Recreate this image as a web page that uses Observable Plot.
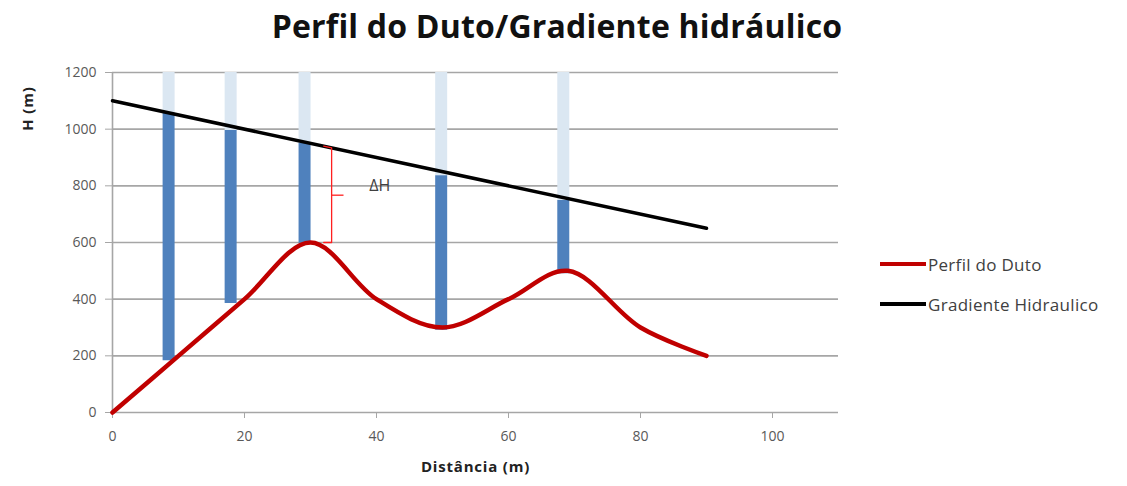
<!DOCTYPE html>
<html>
<head>
<meta charset="utf-8">
<script src="https://cdn.jsdelivr.net/npm/d3@7"></script>
<script src="https://cdn.jsdelivr.net/npm/@observablehq/plot@0.6"></script>
<style>
  body { margin: 0; background: #fff; font-family: "Open Sans", Lato, sans-serif; }
  #wrap { position: relative; width: 1127px; height: 486px; overflow: hidden; }
  #title { position: absolute; top: 4px; left: 0; width: 1114px; text-align: center;
           font-size: 32px; font-weight: bold; color: #111; letter-spacing: 0.2px; }
  #chart { position: absolute; top: 0; left: 0; }
  #legend { position: absolute; left: 880px; top: 252px; font-size: 17px; color: #404040; letter-spacing: 0.3px; }
  .item { display: flex; align-items: center; height: 24px; margin-bottom: 16px; }
  .swatch { width: 46px; height: 0; border-top: 4px solid; margin-right: 2px; }
</style>
</head>
<body>
<div id="wrap">
  <div id="chart"></div>
  <div id="title">Perfil do Duto/Gradiente hidráulico</div>
  <div id="legend"></div>
</div>
<script>
// ---- data ----
const xTicks = [0, 20, 40, 60, 80, 100];
const yTicks = [0, 200, 400, 600, 800, 1000, 1200];

// Perfil do Duto (pipe profile)
const profileX = [0, 10, 20, 30, 40, 50, 60, 69, 80, 90];
const profileY = [0, 200, 400, 600, 400, 300, 400, 500, 300, 200];

// Gradiente Hidraulico
const gradientX = [0, 90];
const gradientY = [1100, 650];

// Vertical columns (piezometric bars)
const barX      = [8.5, 17.9, 29.1, 49.8, 68.3];
const barBottom = [183, 385, 597, 290, 490];
const barTop    = [1055, 995, 950, 836, 748];
const barCeil   = 1200;

// ΔH annotation
const deltaHx = 33.2;
const deltaHlow = 600;
const deltaHhigh = 934;
const deltaHlabel = "ΔH";
const deltaHlabelX = 40.5;
const deltaHlabelY = 800;

const seriesNames = ["Perfil do Duto", "Gradiente Hidraulico"];
const seriesColors = ["#c00000", "#000000"];

// ---- build tables ----
const profile = profileX.map((x, i) => ({x, y: profileY[i]}));
const gradient = gradientX.map((x, i) => ({x, y: gradientY[i]}));
const bars = barX.map((x, i) => ({x, bottom: barBottom[i], top: barTop[i], ceil: barCeil}));
const mid = (deltaHlow + deltaHhigh) / 2;
const bracket = [
  {x: deltaHx - 1.2, y: deltaHhigh + 6},
  {x: deltaHx, y: deltaHhigh},
  {x: deltaHx, y: deltaHlow},
  {x: deltaHx - 1.2, y: deltaHlow}
];

const gray = "#595959";
const chart = Plot.plot({
  width: 1127,
  height: 486,
  marginLeft: 112,
  marginRight: 289,
  marginTop: 72,
  marginBottom: 74,
  style: {fontFamily: "'Open Sans', Lato, sans-serif", background: "transparent"},
  x: {domain: [0, 110]},
  y: {domain: [0, 1200]},
  marks: [
    Plot.gridY(yTicks, {stroke: "#a6a6a6", strokeOpacity: 1, strokeWidth: 1.6}),
    Plot.ruleX([0], {stroke: "#a6a6a6", strokeWidth: 1.6}),
    Plot.axisX(xTicks, {tickSize: 6, tickPadding: 13, fontSize: 14, color: gray, stroke: "#a6a6a6", tickFormat: "d", label: null}),
    Plot.axisY(yTicks, {tickSize: 7, tickPadding: 9, fontSize: 14, color: gray, stroke: "#a6a6a6", tickFormat: "d", label: null}),
    Plot.ruleX(bars, {x: "x", y1: "top", y2: "ceil", stroke: "#dbe7f2", strokeWidth: 12}),
    Plot.ruleX(bars, {x: "x", y1: "bottom", y2: "top", stroke: "#4f81bd", strokeWidth: 12}),
    Plot.line(profile, {x: "x", y: "y", curve: "catmull-rom", stroke: seriesColors[0], strokeWidth: 4.5}),
    Plot.line(gradient, {x: "x", y: "y", stroke: seriesColors[1], strokeWidth: 3.5}),
    Plot.line(bracket, {x: "x", y: "y", stroke: "#ff2020", strokeWidth: 1.3}),
    Plot.link([{x1: deltaHx, x2: deltaHx + 1.8, y: mid}], {x1: "x1", x2: "x2", y1: "y", y2: "y", stroke: "#ff2020", strokeWidth: 1.3}),
    Plot.text([{x: deltaHlabelX, y: deltaHlabelY, t: deltaHlabel}], {x: "x", y: "y", text: "t", fontSize: 16, fill: "#404040"}),
    Plot.text(["Distância (m)"], {frameAnchor: "bottom", dy: 59, fontSize: 15, fontWeight: "bold", fill: "#222", style: "letter-spacing:0.6px"}),
    Plot.text(["H (m)"], {frameAnchor: "top-left", textAnchor: "middle", dx: -90, dy: 36, rotate: -90, fontSize: 15, fontWeight: "bold", fill: "#222"})
  ]
});
document.getElementById("chart").appendChild(chart);
chart.querySelectorAll("text").forEach(t => {
  if (t.textContent === "Distância (m)" || t.textContent === "H (m)") t.style.letterSpacing = "0.8px";
});

const legend = document.getElementById("legend");
seriesNames.forEach((name, i) => {
  const item = document.createElement("div");
  item.className = "item";
  const sw = document.createElement("span");
  sw.className = "swatch";
  sw.style.borderTopColor = seriesColors[i];
  const label = document.createElement("span");
  label.textContent = name;
  item.appendChild(sw);
  item.appendChild(label);
  legend.appendChild(item);
});
</script>
</body>
</html>
